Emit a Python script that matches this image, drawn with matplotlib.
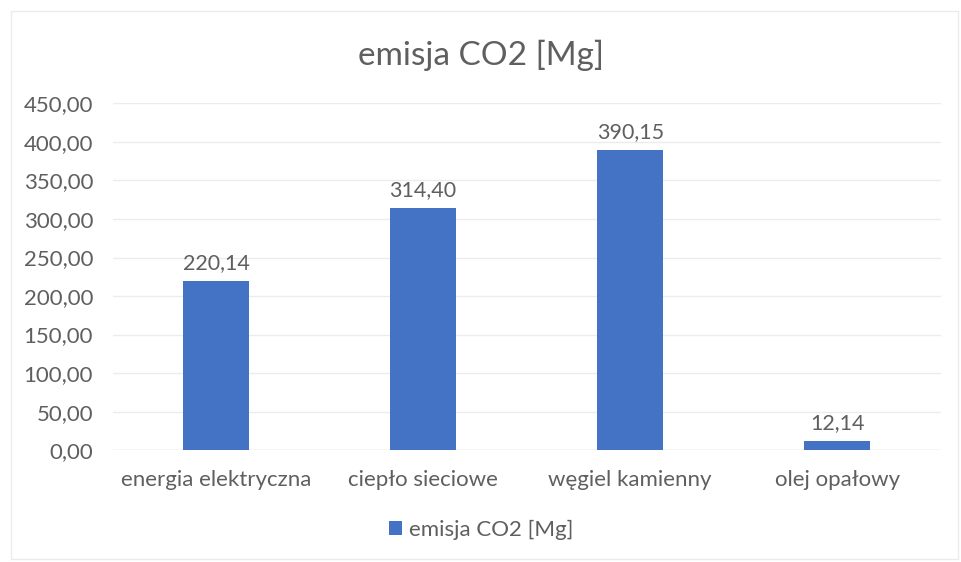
import matplotlib.pyplot as plt
from matplotlib.patches import Rectangle
import numpy as np

categories = ['energia elektryczna', 'ciepło sieciowe', 'węgiel kamienny', 'olej opałowy']
emissions = [220.14, 314.40, 390.15, 12.14]
y_ticks = [0, 50, 100, 150, 200, 250, 300, 350, 400, 450]
series_name = 'emisja CO2 [Mg]'

plt.rcParams['font.family'] = ['Lato', 'DejaVu Sans']
text_color = '#5f5f5f'
bar_color = '#4472C4'


def pl_fmt(v):
    return f'{v:.2f}'.replace('.', ',')


fig = plt.figure(figsize=(9.62, 5.62), dpi=100)
ax = fig.add_axes([0.117, 0.199, 0.861, 0.617])

x = np.arange(len(categories))
bars = ax.bar(x, emissions, width=0.32, color=bar_color, label=series_name, zorder=3)

for xi, v in zip(x, emissions):
    ax.text(xi, v + 10, pl_fmt(v), ha='center', va='bottom', fontsize=15.5, color=text_color)

ax.set_xlim(-0.5, len(categories) - 0.5)
ax.set_ylim(0, 450)
ax.set_yticks(y_ticks)
ax.set_yticklabels([pl_fmt(t) for t in y_ticks])
ax.set_xticks(x)
ax.set_xticklabels(categories)
ax.tick_params(axis='both', length=0, labelsize=16, colors=text_color)
ax.tick_params(axis='y', pad=14)
ax.tick_params(axis='x', pad=14)
ax.grid(axis='y', color='#ececec', linewidth=1, zorder=0)
for s in ax.spines.values():
    s.set_visible(False)
ax.axhline(0, color='#dedede', linewidth=1, zorder=2)

fig.text(0.5, 0.902, series_name, ha='center', va='center', fontsize=24, color=text_color)

fig.legend(handles=[bars], labels=[series_name], loc='center', bbox_to_anchor=(0.5, 0.057),
           frameon=False, fontsize=16, labelcolor=text_color, handlelength=0.6, handleheight=0.6,
           handletextpad=0.3)

# outer chart frame
fig.patches.append(Rectangle((0.011, 0.005), 0.985, 0.975, transform=fig.transFigure,
                             fill=False, edgecolor='#ebebeb', linewidth=1))

fig.savefig('out.png', dpi=100)
